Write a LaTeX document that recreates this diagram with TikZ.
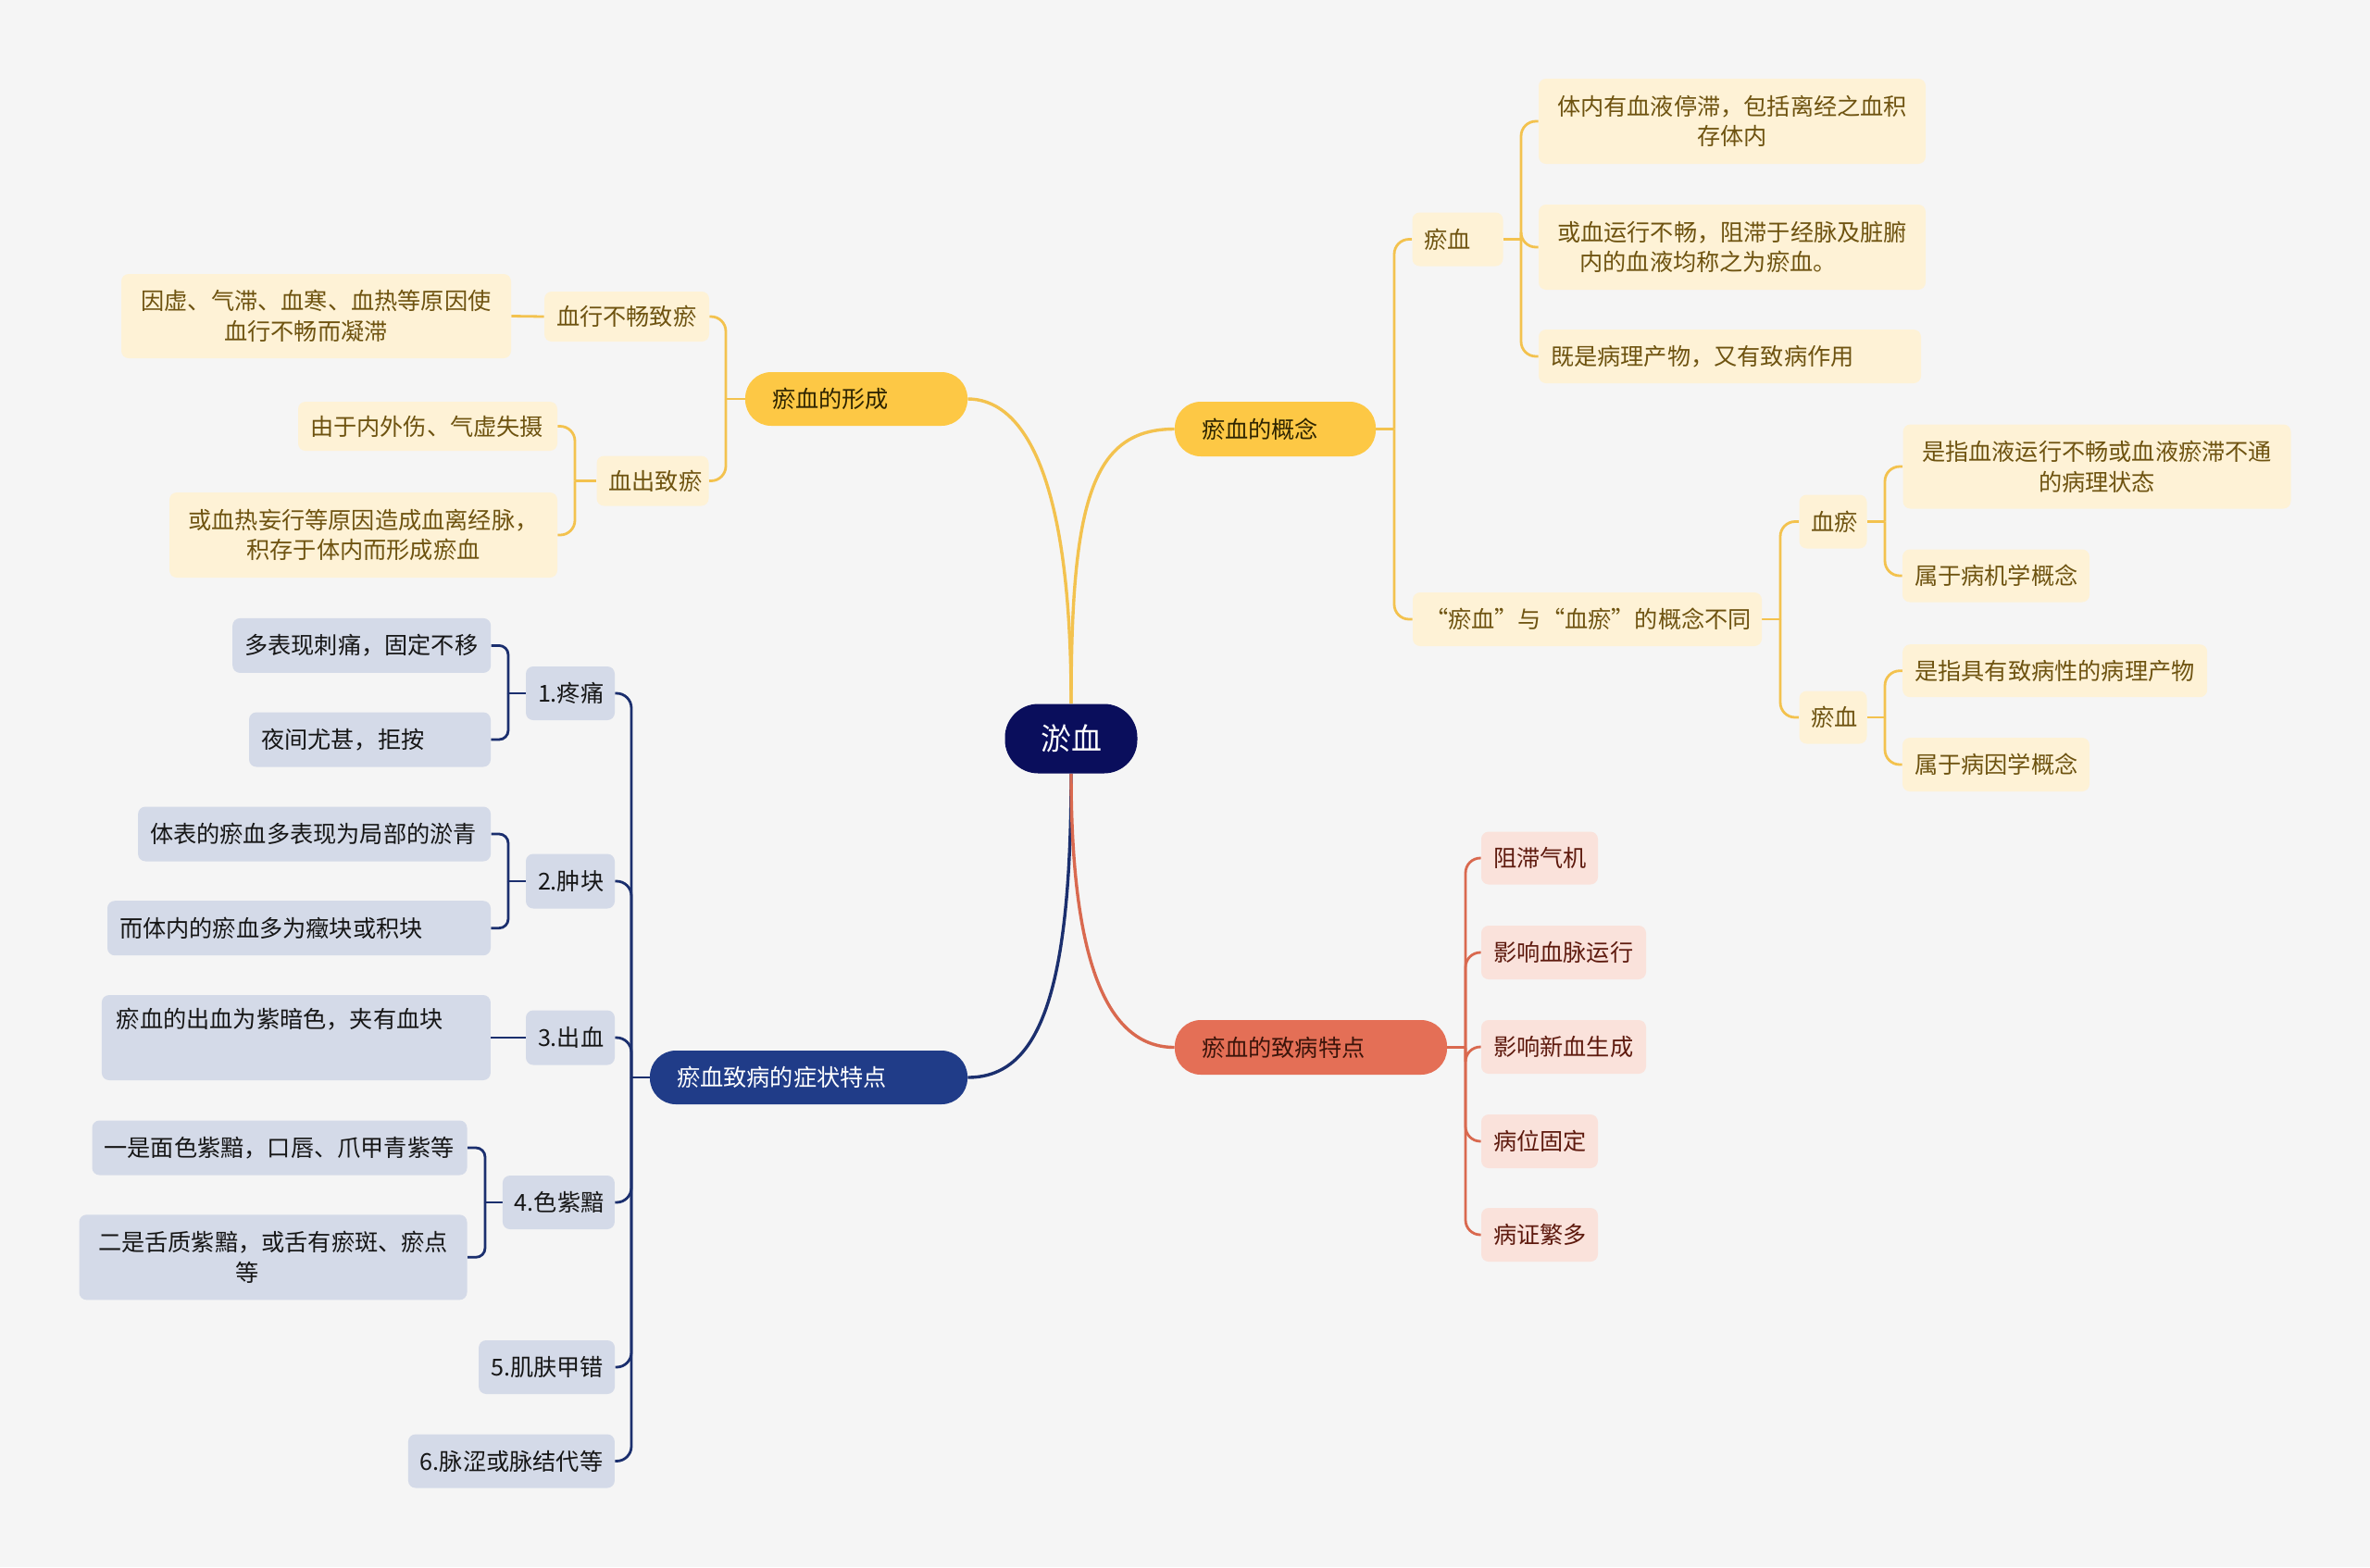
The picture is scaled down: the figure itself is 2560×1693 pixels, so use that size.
\documentclass[tikz,border=0pt]{standalone}
\usepackage{fontspec}
\setmainfont{Noto Sans CJK SC}
\definecolor{bgc}{HTML}{F5F5F5}
\definecolor{ylMain}{HTML}{FDC845}
\definecolor{ylLine}{HTML}{F3C24E}
\definecolor{ylLeaf}{HTML}{FEF2D6}
\definecolor{ylText}{HTML}{6E5310}
\definecolor{ylMainText}{HTML}{2E2400}
\definecolor{rootFill}{HTML}{0A0E5C}
\definecolor{nvMain}{HTML}{203C88}
\definecolor{nvLine}{HTML}{1B2F6E}
\definecolor{nvLeaf}{HTML}{D4DAE8}
\definecolor{nvText}{HTML}{161616}
\definecolor{crMain}{HTML}{E46F56}
\definecolor{crLine}{HTML}{D9694F}
\definecolor{crLeaf}{HTML}{FAE2DB}
\definecolor{crText}{HTML}{5E1A0E}
\definecolor{crMainText}{HTML}{3B140A}
\pgfdeclarelayer{bglayer}
\pgfdeclarelayer{lines}
\pgfsetlayers{bglayer,lines,main}
\begin{document}
\begin{tikzpicture}[x=0.5pt,y=-0.5pt,
  base/.style={inner sep=0pt, font=\fontsize{12.6pt}{16.3pt}\selectfont},
  sz/.style 2 args={minimum width=#1*0.5pt, minimum height=#2*0.5pt},
  lft/.style={align=left, text width=#1},
  ctr/.style={align=center},
  rootnode/.style={base, fill=rootFill, text=white, rounded corners=18pt, font=\fontsize{16.5pt}{20pt}\selectfont},
  ylmain/.style={base, fill=ylMain, text=ylMainText, rounded corners=14pt},
  nvmain/.style={base, fill=nvMain, text=white, rounded corners=14pt},
  crmain/.style={base, fill=crMain, text=crMainText, rounded corners=14pt},
  ylleaf/.style={base, fill=ylLeaf, text=ylText, rounded corners=4pt},
  nvleaf/.style={base, fill=nvLeaf, text=nvText, rounded corners=4pt},
  crleaf/.style={base, fill=crLeaf, text=crText, rounded corners=4pt},
  ylw/.style={draw=ylLine, line width=1.4pt},
  nvw/.style={draw=nvLine, line width=1.4pt},
  crw/.style={draw=crLine, line width=1.4pt},
  rc/.style={rounded corners=8pt},
]
\begin{pgfonlayer}{bglayer}
\fill[bgc] (0,0) rectangle (2560,1693);
\end{pgfonlayer}
\useasboundingbox (0,0) rectangle (2560,1693);

% root
\node[rootnode, sz={143}{75}] (R) at (1157,798) {淤血};

% level 1
\node[ylmain, sz={240}{58}, lft=91pt] (A) at (925,431) {瘀血的形成};
\node[ylmain, sz={217}{59}, lft=79.5pt] (B) at (1377.5,463.5) {瘀血的概念};
\node[nvmain, sz={343}{58}, lft=142.5pt] (C) at (873.5,1164) {瘀血致病的症状特点};
\node[crmain, sz={294}{59}, lft=118pt] (D) at (1416,1131.5) {瘀血的致病特点};

% formation
\node[ylleaf, sz={178}{54}, lft=76pt] (A1) at (677,342) {血行不畅致瘀};
\node[ylleaf, sz={121}{54}, lft=47.5pt] (A2) at (705,519.5) {血出致瘀};
\node[ylleaf, sz={421}{91}, ctr] (A1a) at (341.5,341.5) {因虚、气滞、血寒、血热等原因使\\血行不畅而凝滞\hspace*{11pt}};
\node[ylleaf, sz={280}{53}, lft=127pt] (A2a) at (462,460.5) {由于内外伤、气虚失摄};
\node[ylleaf, sz={419}{92}, ctr] (A2b) at (392.5,578) {或血热妄行等原因造成血离经脉，\\积存于体内而形成瘀血};

% concept
\node[ylleaf, sz={98}{58}, lft=36pt] (B1) at (1574.5,258.5) {瘀血};
\node[ylleaf, sz={418}{92}, ctr] (B1a) at (1871,131) {体内有血液停滞，包括离经之血积\\存体内};
\node[ylleaf, sz={418}{92}, ctr] (B1b) at (1871,267) {或血运行不畅，阻滞于经脉及脏腑\\内的血液均称之为瘀血。\hspace*{26pt}};
\node[ylleaf, sz={413}{58}, lft=193.5pt] (B1c) at (1868.5,385) {既是病理产物，又有致病作用};
\node[ylleaf, sz={377}{58}, lft=175.5pt] (B2) at (1714.5,669) {“瘀血”与“血瘀”的概念不同};
\node[ylleaf, sz={73}{58}, lft=23.5pt] (B2a) at (1980,563.5) {血瘀};
\node[ylleaf, sz={73}{57}, lft=23.5pt] (B2b) at (1980,775) {瘀血};
\node[ylleaf, sz={419}{91}, ctr] (B2a1) at (2265,504) {是指血液运行不畅或血液瘀滞不通\\的病理状态};
\node[ylleaf, sz={202}{57}, lft=88pt] (B2a2) at (2156,622) {属于病机学概念};
\node[ylleaf, sz={329}{57}, lft=151.5pt] (B2b1) at (2219.7,724.7) {是指具有致病性的病理产物};
\node[ylleaf, sz={202}{58}, lft=88pt] (B2b2) at (2156,826) {属于病因学概念};

% symptoms
\node[nvleaf, sz={96}{58}, lft=35pt] (C1) at (616,749) {1.疼痛};
\node[nvleaf, sz={96}{59}, lft=35pt] (C2) at (616,952) {2.肿块};
\node[nvleaf, sz={96}{59}, lft=35pt] (C3) at (616,1121) {3.出血};
\node[nvleaf, sz={121}{58}, lft=47.5pt] (C4) at (603.4,1299) {4.色紫黯};
\node[nvleaf, sz={147}{58}, lft=60.5pt] (C5) at (590.6,1477) {5.肌肤甲错};
\node[nvleaf, sz={223}{58}, lft=98.5pt] (C6) at (552.4,1578.5) {6.脉涩或脉结代等};
\node[nvleaf, sz={279}{59}, lft=126.5pt] (C1a) at (390.7,697.4) {多表现刺痛，固定不移};
\node[nvleaf, sz={261}{59}, lft=117.5pt] (C1b) at (399.5,799) {夜间尤甚，拒按};
\node[nvleaf, sz={381}{59}, lft=177.5pt] (C2a) at (339.6,901) {体表的瘀血多表现为局部的淤青};
\node[nvleaf, sz={414}{59}, lft=194pt] (C2b) at (323,1002.7) {而体内的瘀血多为癥块或积块};
\node[nvleaf, sz={420}{92}, lft=194pt] (C3a) at (319.9,1121) {瘀血的出血为紫暗色，夹有血块\\\strut};
\node[nvleaf, sz={405}{59}, lft=189.5pt] (C4a) at (302,1240) {一是面色紫黯，口唇、爪甲青紫等};
\node[nvleaf, sz={419}{92}, ctr] (C4b) at (295,1358.3) {二是舌质紫黯，或舌有瘀斑、瘀点\\等\hspace*{28pt}};

% pathogenic features
\node[crleaf, sz={126}{57}, lft=50pt] (D1) at (1663,927) {阻滞气机};
\node[crleaf, sz={178}{58}, lft=76pt] (D2) at (1689,1029) {影响血脉运行};
\node[crleaf, sz={178}{58}, lft=76pt] (D3) at (1689,1131) {影响新血生成};
\node[crleaf, sz={126}{58}, lft=50pt] (D4) at (1663,1233) {病位固定};
\node[crleaf, sz={126}{58}, lft=50pt] (D5) at (1663,1334) {病证繁多};

% junction coordinates
\coordinate (Aj) at (784,431);
\coordinate (A2j) at (621,519.5);
\coordinate (Bj) at (1506,463.5);
\coordinate (B1j) at (1643,258.5);
\coordinate (B2j) at (1923,669);
\coordinate (B2aj) at (2036,563.5);
\coordinate (B2bj) at (2036,775);
\coordinate (Cj) at (682,1164);
\coordinate (C1j) at (549,749);
\coordinate (C2j) at (549,952);
\coordinate (C4j) at (524,1299);
\coordinate (Dj) at (1583,1131.5);

\begin{pgfonlayer}{lines}
% root connectors
\draw[draw=ylLine, line width=1.7pt] (R.north) .. controls (1157,500) and (1100,431) .. (A.east);
\draw[draw=ylLine, line width=1.7pt] (R.north) .. controls (1157,540) and (1180,463.5) .. (B.west);
\draw[draw=nvLine, line width=1.7pt] (R.south) .. controls (1157,1080) and (1120,1164) .. (C.east);
\draw[draw=crLine, line width=1.7pt] (R.south) .. controls (1157,1050) and (1200,1131.5) .. (D.west);

% formation
\draw[ylw] (A.west) -- (Aj);
\draw[ylw, rc] (Aj) |- (A1.east);
\draw[ylw, rc] (Aj) |- (A2.east);
\draw[ylw] (A1.west) -- (A1a.east);
\draw[ylw] (A2.west) -- (A2j);
\draw[ylw, rc] (A2j) |- (A2a.east);
\draw[ylw, rc] (A2j) |- (A2b.east);

% concept
\draw[ylw] (B.east) -- (Bj);
\draw[ylw, rc] (Bj) |- (B1.west);
\draw[ylw, rc] (Bj) |- (B2.west);
\draw[ylw] (B1.east) -- (B1j);
\draw[ylw, rc] (B1j) |- (B1a.west);
\draw[ylw, rc] (B1j) |- (B1b.west);
\draw[ylw, rc] (B1j) |- (B1c.west);
\draw[ylw] (B2.east) -- (B2j);
\draw[ylw, rc] (B2j) |- (B2a.west);
\draw[ylw, rc] (B2j) |- (B2b.west);
\draw[ylw] (B2a.east) -- (B2aj);
\draw[ylw, rc] (B2aj) |- (B2a1.west);
\draw[ylw, rc] (B2aj) |- (B2a2.west);
\draw[ylw] (B2b.east) -- (B2bj);
\draw[ylw, rc] (B2bj) |- (B2b1.west);
\draw[ylw, rc] (B2bj) |- (B2b2.west);

% symptoms
\draw[nvw] (C.west) -- (Cj);
\foreach \n in {C1,C2,C3,C4,C5,C6} \draw[nvw, rc] (Cj) |- (\n.east);
\draw[nvw] (C1.west) -- (C1j);
\draw[nvw, rounded corners=5pt] (C1j) |- (C1a.east);
\draw[nvw, rounded corners=5pt] (C1j) |- (C1b.east);
\draw[nvw] (C2.west) -- (C2j);
\draw[nvw, rounded corners=5pt] (C2j) |- (C2a.east);
\draw[nvw, rounded corners=5pt] (C2j) |- (C2b.east);
\draw[nvw] (C3.west) -- (C3a.east);
\draw[nvw] (C4.west) -- (C4j);
\draw[nvw, rounded corners=5pt] (C4j) |- (C4a.east);
\draw[nvw, rounded corners=5pt] (C4j) |- (C4b.east);

% pathogenic
\draw[crw] (D.east) -- (Dj);
\foreach \n in {D1,D2,D3,D4,D5} \draw[crw, rc] (Dj) |- (\n.west);
\end{pgfonlayer}
\end{tikzpicture}
\end{document}
